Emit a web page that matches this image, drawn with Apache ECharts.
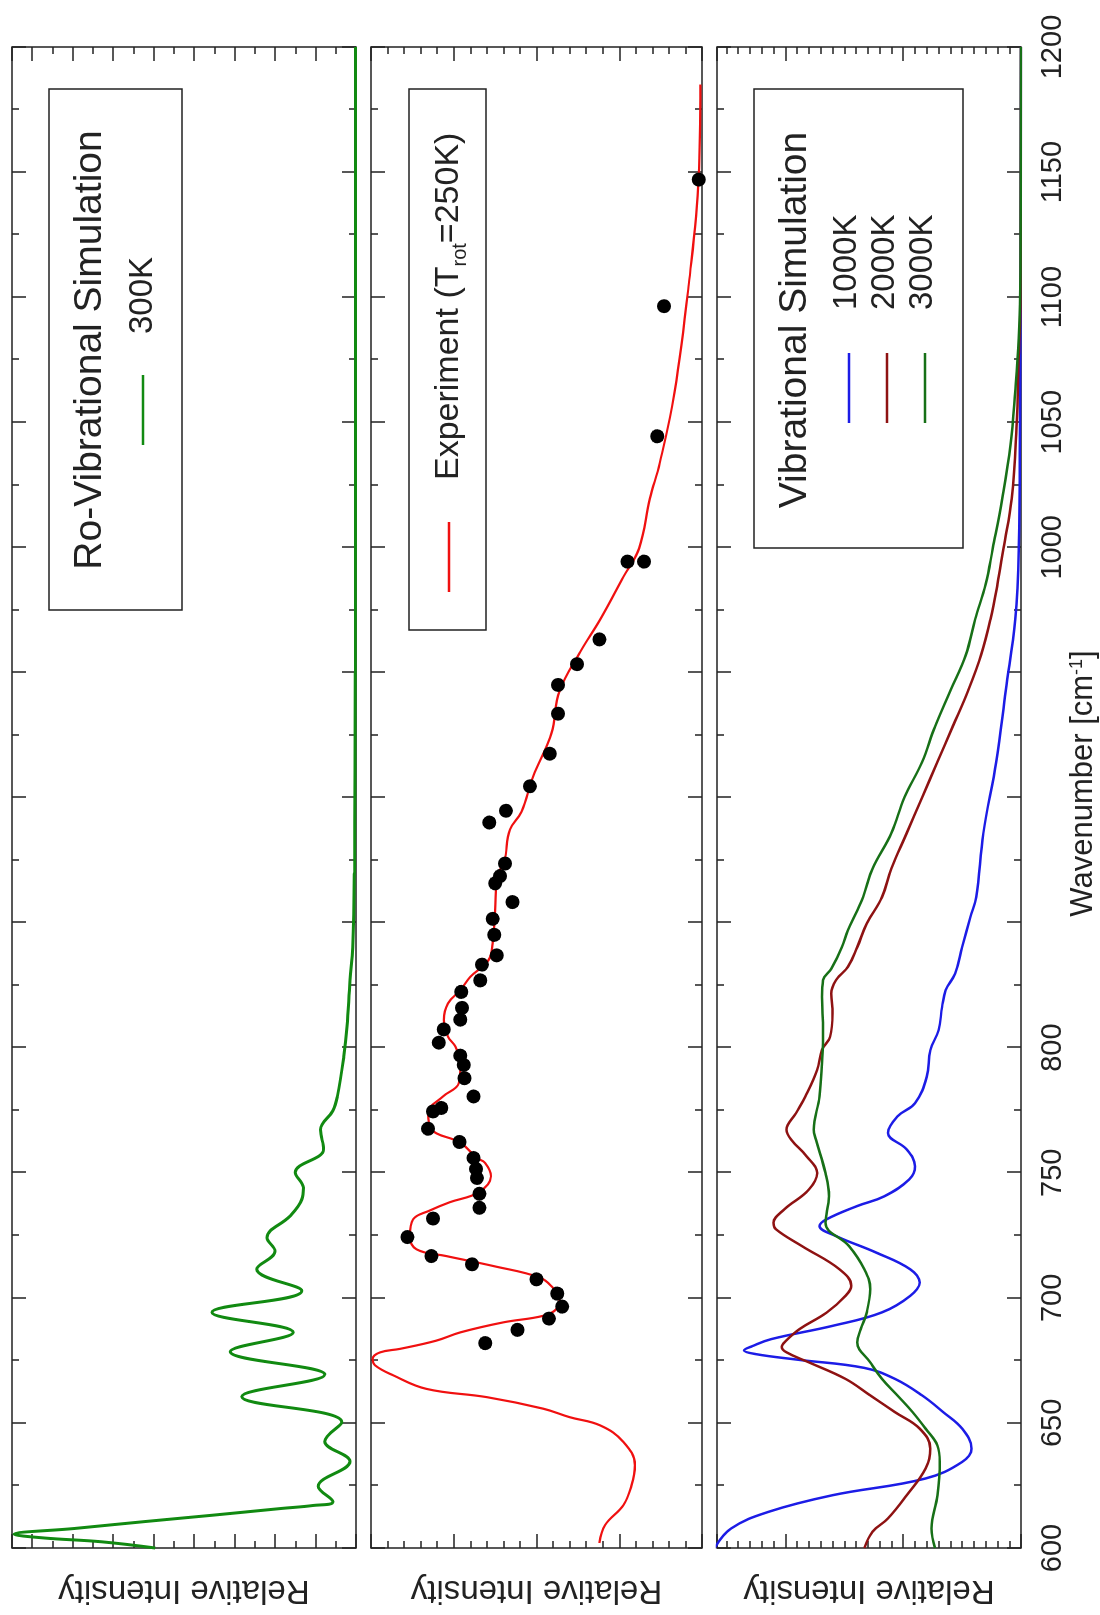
<!DOCTYPE html>
<html>
<head>
<meta charset="utf-8">
<title>Spectra</title>
<script src="https://cdn.jsdelivr.net/npm/echarts@6/dist/echarts.min.js"></script>
<style>
html, body { margin: 0; padding: 0; background: #fff; overflow: hidden; }
/* chart is drawn landscape and turned a quarter to the left */
#chart { position: absolute; left: 0; top: 0; width: 1615px; height: 1100px;
  transform-origin: 0 0; transform: translate(0, 1615px) rotate(-90deg); }
</style>
</head>
<body>
<div id="chart"></div>
<script>
// wavenumber [cm-1], relative intensity (in tick units of each panel)
var rovib300K = [[600,4.96],[602.5,6.3],[604,7.7],[605.5,8.45],[607.8,6.96],[610.5,5.26],[613.1,3.55],[615.8,1.85],[617,1.06],[618.5,0.57],
  [624.6,0.93],[634.6,0.15],[642.6,0.77],[650.3,0.35],[660.5,2.82],[669.3,0.77],[678.5,3.11],[686.2,1.55],[694.2,3.56],[702.8,1.34],
  [711.5,2.45],[718.7,2.0],[724,2.2],[732.7,1.63],[739.3,1.34],[744,1.3],[750.1,1.5],[759.5,0.8],[767.2,0.88],[774.8,0.57],
  [780.5,0.46],[796.4,0.3],[808.4,0.22],[827,0.15],[840,0.08],[870,0.04],[950,0.02],[1200,0.01]];

var expLine = [[602,1.24],[609.2,1.17],[617.1,0.95],[625.2,0.85],[633.1,0.81],[642.4,0.95],[649,1.23],[652.3,1.6],[655.7,1.92],[660.3,2.6],
  [663.6,3.33],[669,3.73],[673,3.95],[675.6,3.98],[678.2,3.89],[679.6,3.65],[682.9,3.21],[686.2,2.92],[690.2,2.4],[692.8,1.92],
  [695.5,1.76],[700.3,1.72],[704,1.8],[708.1,1.96],[712.7,2.52],[716.7,3.09],[719.4,3.45],[724.7,3.53],[731.4,3.49],[734.9,3.29],
  [738.2,3.05],[742.2,2.70],[748.6,2.55],[753.9,2.62],[755.9,2.72],[762,2.92],[767.3,3.27],[773.9,3.31],[780.5,3.13],[785.8,2.94],
  [793.8,2.92],[800.4,2.98],[804.4,3.07],[811.1,3.12],[817.7,3.07],[823,2.92],[828.3,2.8],[835,2.58],[841.6,2.53],[854.9,2.5],
  [868,2.48],[874.4,2.39],[887.2,2.32],[894.3,2.18],[908.5,2.04],[925.6,1.82],[942.7,1.72],[958.3,1.47],[971.2,1.23],[988.2,0.95],
  [999.6,0.76],[1019.5,0.63],[1033.7,0.51],[1062.2,0.33],[1105,0.16],[1147.7,0.04],[1185,0.02]];

var expDots = [[681.9,2.62],[687.2,2.23],[691.7,1.85],[696.5,1.69],[701.7,1.75],[707.4,2.0],[713.4,2.78],[716.7,3.27],[724.3,3.56],[731.7,3.25],
  [736,2.69],[741.6,2.69],[747.9,2.72],[751.5,2.73],[755.9,2.76],[762.3,2.93],[767.6,3.31],[774.5,3.25],[775.9,3.15],[780.5,2.76],
  [787.8,2.87],[793.1,2.88],[796.8,2.92],[802,3.18],[807.3,3.12],[811.2,2.92],[815.9,2.9],[822.3,2.91],[826.9,2.68],[833.2,2.66],
  [836.9,2.48],[845.1,2.51],[851.5,2.53],[858.2,2.29],[865.7,2.5],[868.6,2.44],[873.6,2.38],[890,2.57],[894.7,2.37],[904.5,2.08],
  [917.5,1.84],[933.5,1.74],[945,1.74],[953.3,1.51],[963.2,1.24],[994.3,0.9],[994.3,0.7],[1044.4,0.54],[1096.4,0.46],[1147,0.04]];

var vib1000K = [[600,2.6],[607.8,2.46],[614.5,2.14],[621.1,1.6],[627.8,0.81],[634.4,0.5],[639.7,0.42],[647.7,0.5],[654.3,0.66],[661,0.84],
  [667.6,1.07],[672,1.33],[675.3,1.9],[677.5,2.25],[679,2.35],[680.7,2.28],[683.5,2.12],[688.8,1.6],[694.2,1.18],[700.8,0.94],[706.1,0.86],[711.4,0.94],
  [718.1,1.23],[724.7,1.57],[728.7,1.71],[731.4,1.65],[736.7,1.39],[740.6,1.16],[747.3,0.95],[752.6,0.9],[759.3,0.97],[765.9,1.13],
  [772.5,1.05],[777.8,0.9],[788.4,0.8],[799,0.77],[807,0.7],[816.3,0.67],[823,0.64],[829.6,0.56],[840.2,0.5],[852.2,0.43],
  [860.2,0.38],[885.8,0.32],[914.3,0.21],[942.7,0.13],[971.2,0.05],[999.6,0.02],[1050,0.01],[1200,0]];

var vib2000K = [[600,1.33],[606.5,1.26],[611.8,1.13],[621.1,0.97],[631.8,0.81],[639.7,0.77],[647.7,0.86],[654.3,1.07],[661,1.28],[667.6,1.49],
  [674.2,1.8],[678.2,1.99],[680.4,2.03],[682.6,2.0],[687.5,1.88],[694.1,1.65],[700.8,1.49],[704.8,1.44],[711.4,1.54],[720.7,1.86],[727.4,2.08],
  [730,2.1],[735.3,2.01],[743.3,1.8],[749.9,1.73],[756.6,1.82],[763.2,1.95],[767.2,1.99],[773.8,1.91],[780.5,1.83],[791.1,1.73],
  [799.1,1.69],[804.4,1.62],[813.7,1.6],[821.6,1.61],[827,1.57],[832.3,1.47],[840.2,1.39],[849.5,1.31],[860.2,1.18],[871.6,1.1],
  [885.8,0.97],[900,0.84],[914.2,0.71],[928.4,0.58],[942.7,0.45],[956.9,0.34],[971.2,0.26],[985.4,0.2],[999.6,0.15],[1019.5,0.08],
  [1048,0.04],[1076.5,0.02],[1100,0.005],[1200,0]];

var vib3000K = [[600,0.73],[607.8,0.76],[621.1,0.71],[634.4,0.69],[641,0.71],[647.7,0.81],[654.3,0.92],[661,1.05],[667.6,1.18],[674.2,1.28],
  [682.2,1.39],[687.5,1.36],[694.1,1.31],[703.5,1.28],[711.4,1.33],[720.7,1.46],[730,1.66],[740.6,1.63],[749.9,1.66],[763.2,1.74],
  [767.2,1.76],[780.5,1.71],[793.8,1.69],[807,1.68],[820.3,1.69],[827,1.68],[831.6,1.61],[840.2,1.52],[846.9,1.47],[854.9,1.39],
  [860.2,1.34],[871.6,1.26],[885.8,1.1],[900,0.99],[914.2,0.84],[928.4,0.73],[942.7,0.6],[956.9,0.47],[971.2,0.39],[985.4,0.3],
  [999.6,0.24],[1019.5,0.16],[1040.9,0.09],[1062.2,0.05],[1083.6,0.02],[1110,0.005],[1200,0]];

var hiddenTickLabels = [850, 900, 950];
var legendTitles = ['Ro-Vibrational Simulation', 'Vibrational Simulation'];
var legendNames = ['300K', '1000K', '2000K', '3000K'];

var FONT = '"Liberation Sans", Arial, sans-serif';
var INK = '#222';
var C = { rovib: '#118a11', exp: '#f01010', k1000: '#1c1ce6', k2000: '#8e1212', k3000: '#177017' };

// panel layout (landscape coordinates)
var panels = [
  { top: 12, height: 344, max: 8.5, major: 1, minor: 0.5 },
  { top: 371, height: 331, max: 4, major: 1, minor: 0.2 },
  { top: 717, height: 329, max: 2.58, major: 1, minor: 0.1 }
];

function xAxisFor(g, pos, labels) {
  var ax = {
    type: 'value', gridIndex: g, position: pos, min: 600, max: 1200, interval: 50,
    axisLine: { show: false, onZero: false },
    axisTick: { inside: true, length: 14, lineStyle: { color: INK, width: 1.5 } },
    minorTick: { show: true, splitNumber: 2, length: 7, lineStyle: { color: INK, width: 1.5 } },
    splitLine: { show: false },
    axisLabel: { show: false }
  };
  if (labels) {
    ax.axisLabel = {
      show: true, margin: 17, color: INK, fontSize: 29, fontFamily: FONT,
      formatter: function (v) { return hiddenTickLabels.indexOf(v) >= 0 ? '' : String(v); }
    };
    ax.name = '{a|Wavenumber [cm}{s|-1}{a|]}';
    ax.nameLocation = 'middle';
    ax.nameGap = 18;
    ax.nameTextStyle = {
      padding: [0, 0, 0, 28],
      rich: {
        a: { fontSize: 31, fontFamily: FONT, color: INK, lineHeight: 31, verticalAlign: 'top' },
        s: { fontSize: 18, fontFamily: FONT, color: INK, lineHeight: 18, verticalAlign: 'top' }
      }
    };
  }
  return ax;
}

function yAxisFor(g, pos, p, step, len, named) {
  var ax = {
    type: 'value', gridIndex: g, position: pos, min: 0, max: p.max, interval: step,
    axisLine: { show: false, onZero: false },
    axisTick: { inside: true, length: len, lineStyle: { color: INK, width: 1.5 } },
    axisLabel: { show: false },
    splitLine: { show: false }
  };
  if (named) {
    ax.name = 'Relative Intensity';
    ax.nameLocation = 'middle';
    ax.nameGap = 26;
    ax.nameTextStyle = { fontSize: 33, fontFamily: FONT, color: INK };
  }
  return ax;
}

var grids = [], xAxes = [], yAxes = [];
panels.forEach(function (p, g) {
  grids.push({ left: 62, right: 47, top: p.top, height: p.height, show: true,
    borderColor: INK, borderWidth: 1.5, backgroundColor: 'transparent' });
  xAxes.push(xAxisFor(g, 'bottom', g === 2));
  xAxes.push(xAxisFor(g, 'top', false));
  yAxes.push(yAxisFor(g, 'left', p, p.major, 14, true));
  yAxes.push(yAxisFor(g, 'right', p, p.major, 14, false));
  yAxes.push(yAxisFor(g, 'left', p, p.minor, 7, false));
  yAxes.push(yAxisFor(g, 'right', p, p.minor, 7, false));
});

function curve(g, data, color, width) {
  return { type: 'line', xAxisIndex: 2 * g, yAxisIndex: 4 * g, data: data,
    smooth: 0.4, showSymbol: false, symbol: 'none', silent: true,
    lineStyle: { color: color, width: width } };
}

function txt(x, y, text, size, align) {
  return { type: 'text', style: { text: text, x: x, y: y, fill: INK, fontSize: size,
    fontFamily: FONT, align: align, verticalAlign: 'middle' } };
}
function seg(x1, x2, y, color) {
  return { type: 'line', shape: { x1: x1, y1: y, x2: x2, y2: y }, style: { stroke: color, lineWidth: 2.5 } };
}
function box(x, y, w, h) {
  return { type: 'rect', shape: { x: x, y: y, width: w, height: h },
    style: { fill: 'none', stroke: INK, lineWidth: 1.5 } };
}

var graphics = [
  box(1005, 49, 521, 133),
  txt(1265, 90, legendTitles[0], 39, 'center'),
  seg(1170, 1240, 143, C.rovib),
  txt(1281, 143, legendNames[0], 33, 'left'),

  box(985, 409, 541, 77),
  seg(1023, 1093, 449, C.exp),
  { type: 'text', style: { text: '{a|Experiment (T}{s|rot}{a|=250K)}', x: 1135, y: 449,
    align: 'left', verticalAlign: 'middle',
    rich: {
      a: { fontSize: 34, fontFamily: FONT, fill: INK, color: INK, lineHeight: 34, verticalAlign: 'top' },
      s: { fontSize: 20, fontFamily: FONT, fill: INK, color: INK, lineHeight: 20, verticalAlign: 'top', padding: [18, 0, 0, 0] }
    } } },

  box(1067, 754, 459, 209),
  txt(1295, 795, legendTitles[1], 39, 'center'),
  seg(1192, 1262, 849, C.k1000),
  txt(1305, 847, legendNames[1], 33, 'left'),
  seg(1192, 1262, 887, C.k2000),
  txt(1305, 885, legendNames[2], 33, 'left'),
  seg(1192, 1262, 925, C.k3000),
  txt(1305, 923, legendNames[3], 33, 'left')
];

var chart = echarts.init(document.getElementById('chart'), null, { width: 1615, height: 1100, renderer: 'canvas' });
chart.setOption({
  animation: false,
  backgroundColor: '#fff',
  grid: grids,
  xAxis: xAxes,
  yAxis: yAxes,
  series: [
    curve(0, rovib300K, C.rovib, 3),
    curve(1, expLine, C.exp, 2.2),
    { type: 'scatter', xAxisIndex: 2, yAxisIndex: 4, data: expDots, symbolSize: 14, z: 5,
      itemStyle: { color: '#000', opacity: 1 }, silent: true },
    curve(2, vib1000K, C.k1000, 2.5),
    curve(2, vib2000K, C.k2000, 2.5),
    curve(2, vib3000K, C.k3000, 2.5)
  ],
  graphic: graphics
});
</script>
</body>
</html>
